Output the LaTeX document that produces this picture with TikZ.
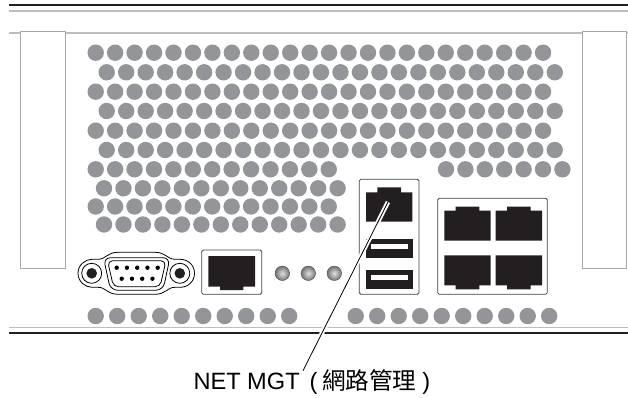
\documentclass[tikz,border=0pt]{standalone}
\usepackage{fontspec}
\setmainfont{Liberation Sans}
\newfontfamily\cjk{Noto Sans CJK TC}
\definecolor{dotgray}{HTML}{939598}
\definecolor{linegray}{HTML}{BCBDBF}
\definecolor{panelgray}{HTML}{A7A9AC}
\definecolor{portblack}{HTML}{231F20}
\tikzset{
  ventdot/.style={circle,fill=dotgray,draw=none,minimum size=16.4pt,inner sep=0pt},
  hairgray/.style={draw=linegray,line width=1.2pt},
  darkrule/.style={draw=portblack,line width=2pt},
  panel/.style={draw=panelgray,line width=1pt,fill=white},
  portbox/.style={draw=portblack!85,line width=0.8pt,fill=white,rounded corners=1.5pt},
  portfill/.style={fill=portblack,draw=none},
  led/.style={circle,minimum size=14.5pt,inner sep=0pt,inner color=black!12,outer color=black!55,draw=black!70,line width=0.4pt},
  vga/.style={draw=black,line width=0.8pt,fill=white},
}
\begin{document}
\begin{tikzpicture}[x=1pt,y=-1pt]
\useasboundingbox (0,0) rectangle (628,398);
\fill[white] (0,0) rectangle (628,398);
% top rules
\draw[darkrule] (9,5.5) -- (628,5.5);
\draw[hairgray] (9,11) -- (628,11);
\draw[hairgray] (9,33) -- (628,33);
% side panels
\draw[panel] (20.5,32) rectangle (65,268);
\draw[panel] (582,32) rectangle (626.5,268);
% vent holes
\foreach \r/\y in {0/52.7,2/91.7,4/130.7}
  \foreach \i in {0,...,23}
    \node[ventdot] (v\r-\i) at ({95.7+19.45*\i},\y) {};
\foreach \r/\y in {1/72.3,3/111,5/150}
  \foreach \i in {0,...,23}
    \node[ventdot] (v\r-\i) at ({106.7+19.48*\i},\y) {};
\foreach \r/\y in {6/169.3,8/206.5}
  \foreach \i in {0,...,12}
    \node[ventdot] (v\r-\i) at ({95.7+19.42*\i},\y) {};
\foreach \r/\y in {7/188.3,9/224.5}
  \foreach \i in {0,...,12}
    \node[ventdot] (v\r-\i) at ({104+19.47*\i},\y) {};
\foreach \i in {0,...,6}
  \node[ventdot] (w\i) at ({446+19.4*\i},169.3) {};
\foreach \i in {0,...,9}
  \node[ventdot] (bl\i) at ({95.7+21.5*\i},316) {};
\foreach \i in {0,...,9}
  \node[ventdot] (br\i) at ({355.7+21.5*\i},316) {};
% bottom rules
\draw[hairgray] (9,327.7) -- (628,327.7);
\draw[darkrule] (9,333.3) -- (628,333.3);
% VGA connector
\draw[vga] (78,273.3) .. controls (78,265) and (85,259.3) .. (92,259.3)
  -- (98,259.3) .. controls (106,259.3) and (107,252.3) .. (118,252.3)
  -- (155,252.3) .. controls (166,252.3) and (167,259.3) .. (175,259.3)
  -- (180,259.3) .. controls (188,259.3) and (194.5,265) .. (194.5,273.3)
  .. controls (194.5,281.5) and (188,287.3) .. (180,287.3)
  -- (175,287.3) .. controls (167,287.3) and (166,294.3) .. (155,294.3)
  -- (118,294.3) .. controls (107,294.3) and (106,287.3) .. (98,287.3)
  -- (92,287.3) .. controls (85,287.3) and (78,281.5) .. (78,273.3) -- cycle;
\draw[vga] (91.7,273.3) circle (10);
\draw[vga] (179.8,273.3) circle (10);
\fill[portblack] (91.7,273.3) circle (5.3);
\fill[portblack] (179.8,273.3) circle (5.3);
\draw[vga,rounded corners=7pt] (103.5,257.7) -- (170,257.7) -- (163,290.2) -- (110.5,290.2) -- cycle;
\draw[vga,rounded corners=5pt] (107.5,260.8) -- (166,260.8) -- (160,286.8) -- (113.5,286.8) -- cycle;
\foreach \i in {0,...,4}
  \fill[black] ({116.7+10.25*\i},267.7) circle (2.2);
\foreach \i in {0,...,3}
  \fill[black] ({121.7+10.25*\i},278.7) circle (2.2);
% single RJ45
\draw[portbox] (201.7,250) rectangle (261.7,294.3);
\fill[portfill] (208.3,256) -- (255,256) -- (255,286.7) -- (243.3,286.7) -- (243.3,290) -- (220,290) -- (220,286.7) -- (208.3,286.7) -- cycle;
% LEDs
\node[led] (led1) at (282.3,273.3) {};
\node[led] (led2) at (308.3,273.3) {};
\node[led] (led3) at (334.3,273.3) {};
% NET MGT + USB block
\draw[portbox] (359.3,179.3) rectangle (419,294.3);
\fill[portfill] (366,192.3) -- (377.3,192.3) -- (377.3,187.3) -- (401,187.3) -- (401,192.3) -- (412.3,192.3) -- (412.3,221.7) -- (366,221.7) -- cycle;
\fill[portfill] (366,239) rectangle (413,257.7);
\fill[white] (370.7,244) rectangle (408,249);
\fill[portfill] (366,270) rectangle (413,288.7);
\fill[white] (370.7,275) rectangle (408,280);
% quad RJ45 block
\draw[portbox] (437.7,198.3) rectangle (547.3,294.3);
\foreach \x in {444.3,495.7}{
  \fill[portfill] (\x,210.7) -- ({\x+11.4},210.7) -- ({\x+11.4},206.7) -- ({\x+35},206.7) -- ({\x+35},210.7) -- ({\x+46.4},210.7) -- ({\x+46.4},240.7) -- (\x,240.7) -- cycle;
  \fill[portfill] (\x,255.3) -- ({\x+46.4},255.3) -- ({\x+46.4},285.3) -- ({\x+35},285.3) -- ({\x+35},289.3) -- ({\x+11.4},289.3) -- ({\x+11.4},285.3) -- (\x,285.3) -- cycle;
}
% label and leader
\node[anchor=base west,inner sep=0pt,font=\fontsize{23.6}{28}\selectfont] (lbl) at (193.3,389.5) {NET MGT\hspace{10pt}(\hspace{4.5pt}{\cjk 網路管理}\hspace{6pt})};
\coordinate (leadstart) at (303,370.7);
\coordinate (leadend) at (388,202);
\draw[white,line width=4.5pt] (leadstart) -- (leadend);
\draw[black,line width=0.8pt] (leadstart) -- (leadend);
\end{tikzpicture}
\end{document}
